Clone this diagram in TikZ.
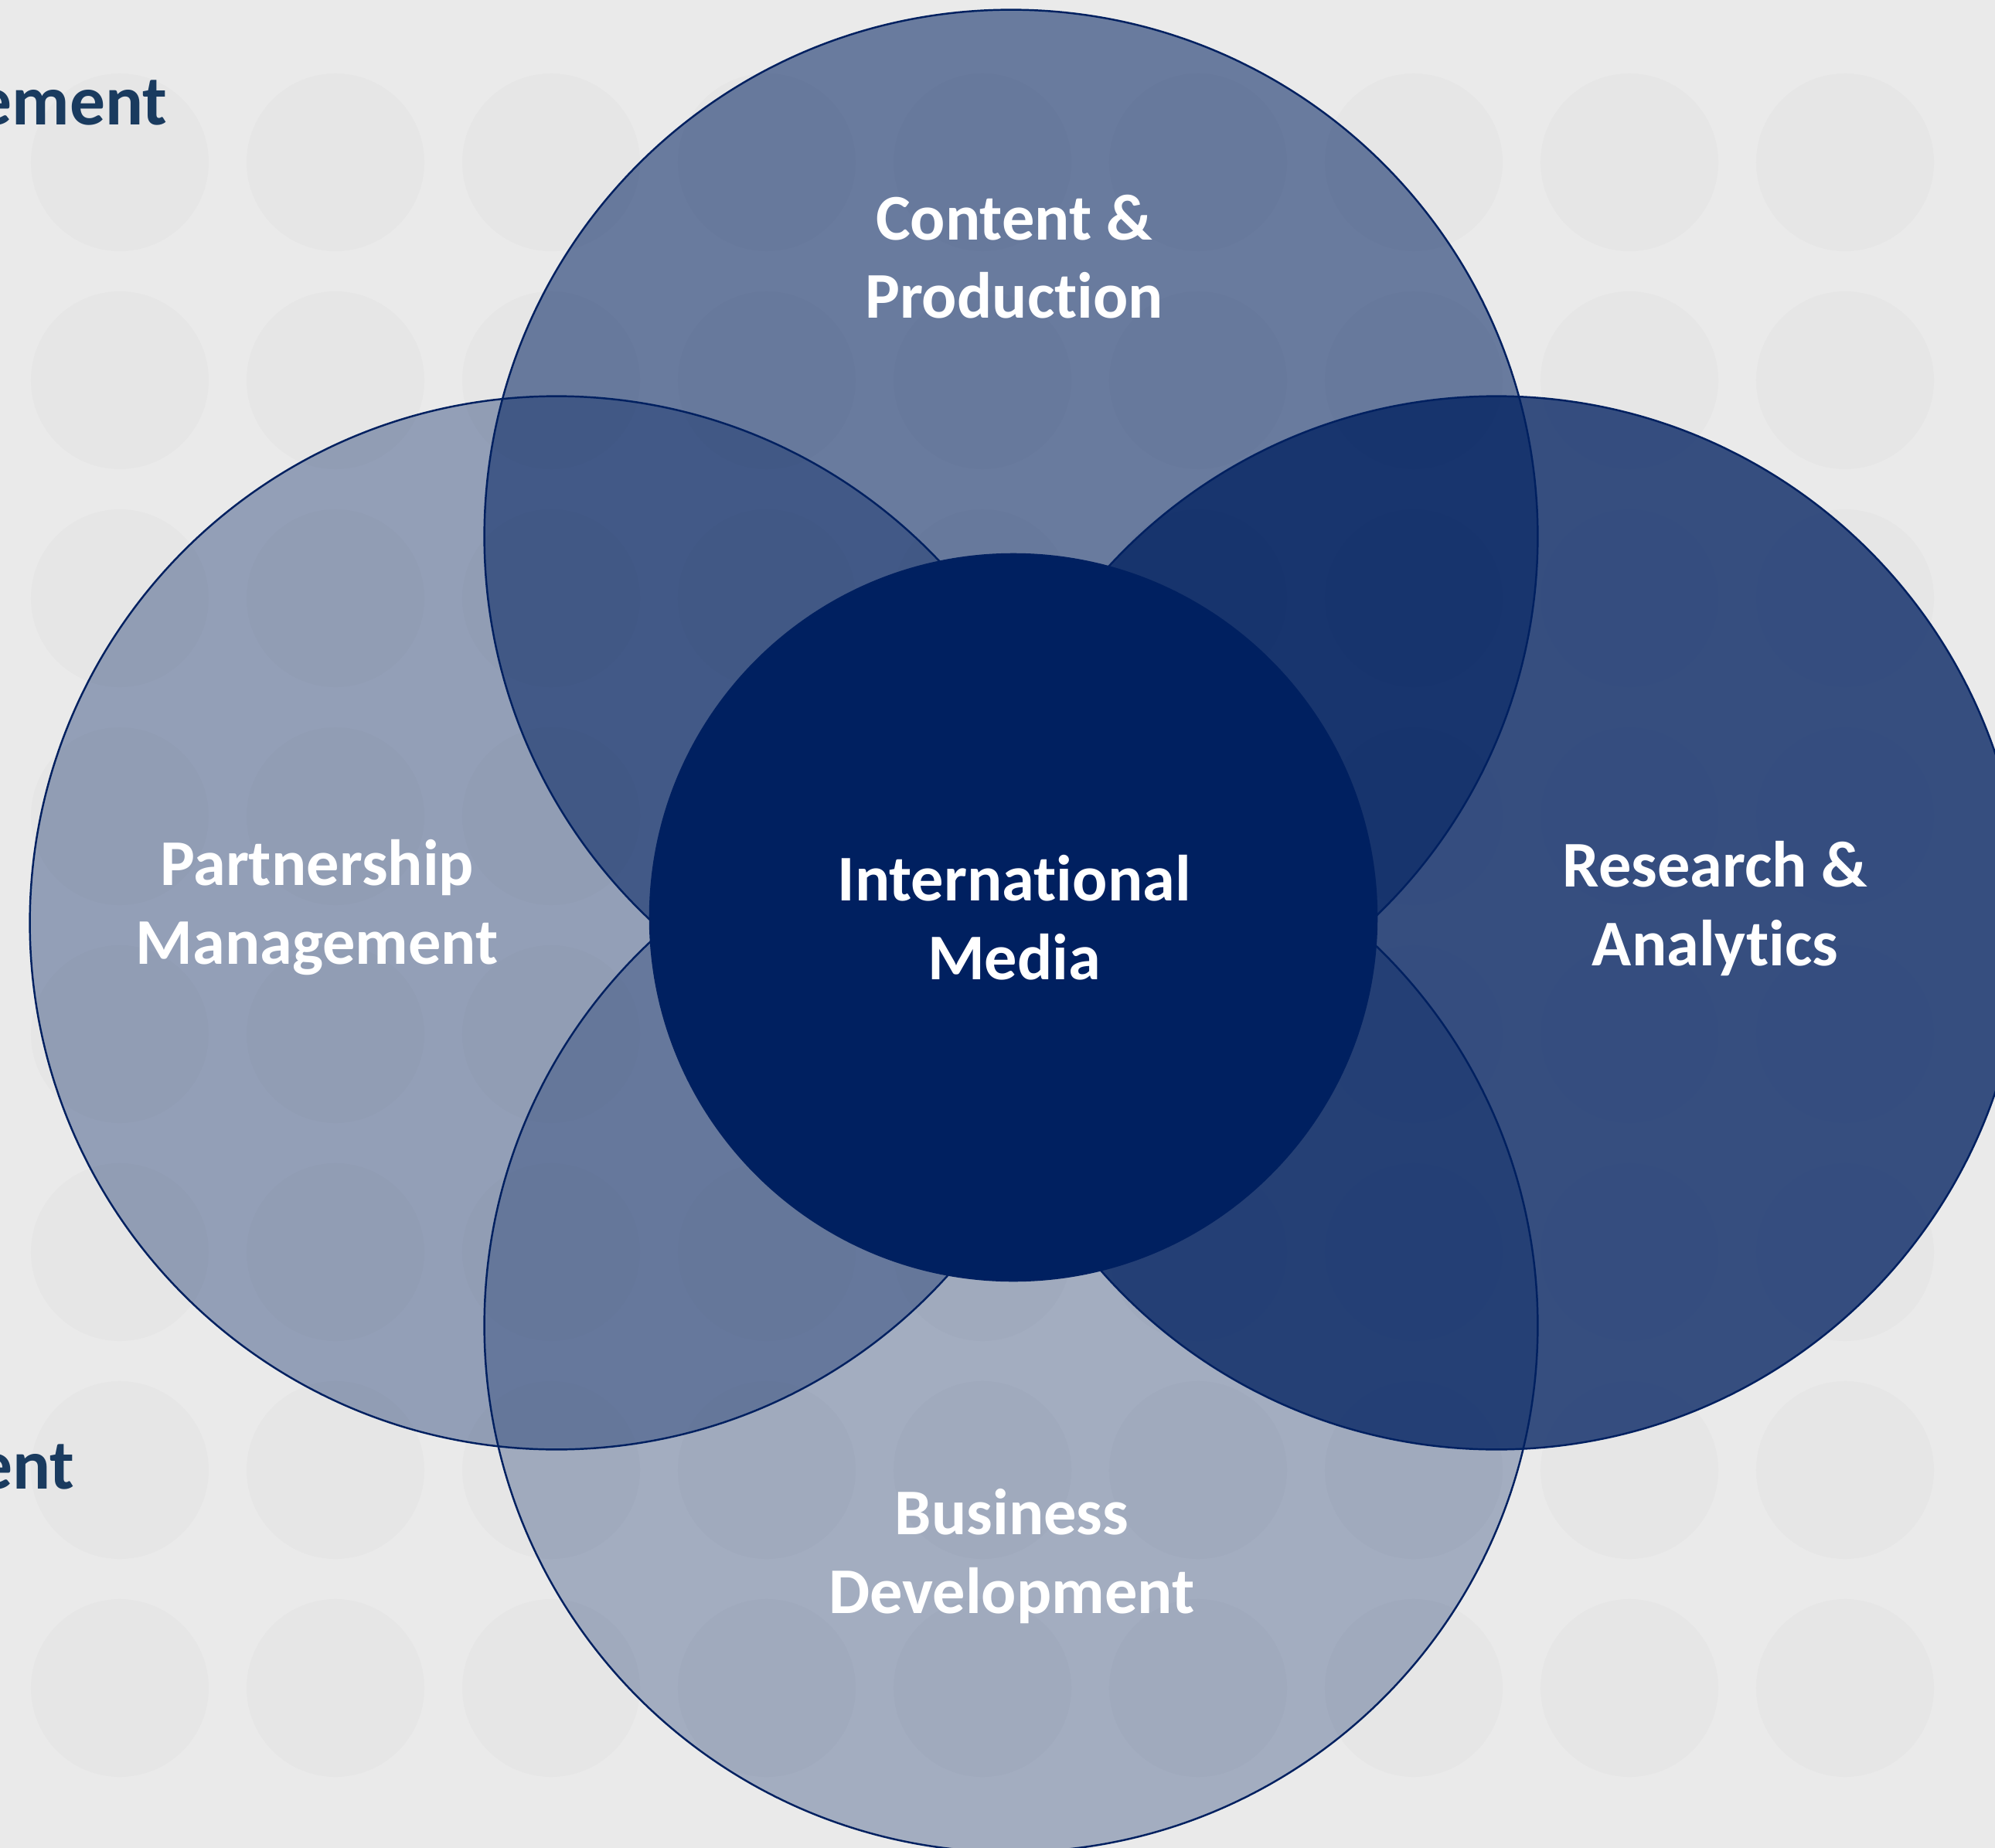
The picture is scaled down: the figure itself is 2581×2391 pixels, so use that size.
\documentclass[tikz,border=0pt]{standalone}
\usepackage{fontspec}
\setmainfont{Carlito}[Ligatures={NoCommon}]
\definecolor{navy}{HTML}{002060}
\definecolor{slate}{HTML}{1A3B5F}
\definecolor{paper}{HTML}{EAEAEA}
\begin{document}
\begin{tikzpicture}[x=0.01cm,y=-0.01cm,
    ring/.style={circle,draw=navy,line width=0.7pt,fill=navy,inner sep=0pt,minimum size=13.62cm},
    hub/.style={circle,fill=navy,inner sep=0pt,minimum size=9.42cm},
    lbl/.style={text=white,align=center,anchor=base,font=\bfseries\fontsize{24}{29}\selectfont},
    cut/.style={text=slate,anchor=base east,inner sep=0pt,font=\bfseries\fontsize{26}{32}\selectfont},
    bokeh/.style={fill=black,fill opacity=0.015}]
  \useasboundingbox (0,0) rectangle (2581,2391);
  \clip (0,0) rectangle (2581,2391);
  \fill[paper] (0,0) rectangle (2581,2391);
  % soft background dots
  \foreach \x in {155,434,...,2400}
    \foreach \y in {210,492,...,2200}
      \fill[bokeh] (\x,\y) circle [radius=1.15cm];
  % text cut off at the slide edge
  \draw
    (217,162) node[cut] (topcut){ement}
    (97,1926) node[cut] (bottomcut){ent};
  \draw
    (1308,694) node[ring,fill opacity=0.55] (content){}
    (720,1194) node[ring,fill opacity=0.37] (partner){}
    (1936,1194) node[ring,fill opacity=0.77] (research){}
    (1308,1715) node[ring,fill opacity=0.30] (business){}
    (1311,1187) node[hub] (intl){};
  % base is the last line
  \draw
    (1312,412) node[lbl] (contenttxt){Content \&\\Production}
    (410,1247) node[lbl] (partnertxt){Partnership\\Management}
    (2219,1249) node[lbl] (researchtxt){Research \&\\Analytics}
    (1309,2087) node[lbl] (businesstxt){Business\\Development}
    (1312,1267) node[lbl] (intltxt){International\\Media};
\end{tikzpicture}
\end{document}
